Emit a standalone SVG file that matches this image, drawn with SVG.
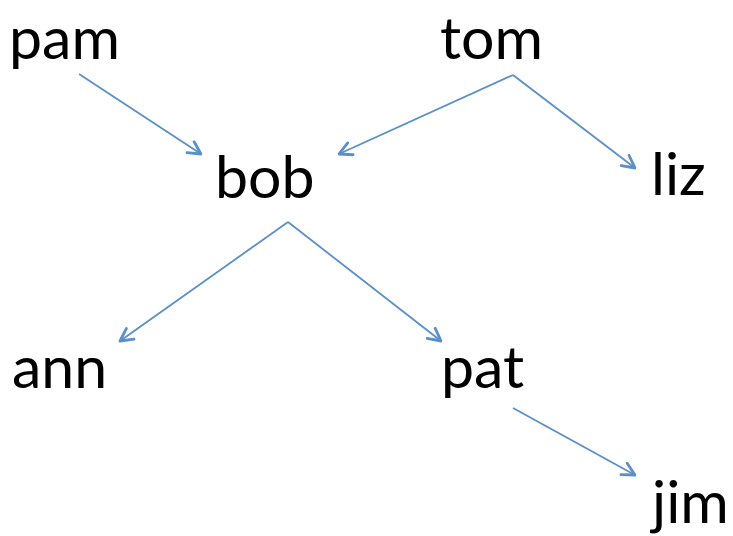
<svg xmlns="http://www.w3.org/2000/svg" width="733" height="536" viewBox="0 0 733 536">
<style>
.lbl{font-family:Lato,"Open Sans",sans-serif;font-size:59px;fill:#000}
.edge{stroke:#5A8FC8;stroke-width:1.8;fill:none}
</style>
<defs>
<marker id="ah" viewBox="0 0 16 16" refX="14.5" refY="8" markerWidth="16" markerHeight="16" markerUnits="userSpaceOnUse" orient="auto">
<path d="M2,1.5 L14.5,8 L2,14.5" fill="none" stroke="#5A8FC8" stroke-width="2.8" stroke-linecap="round" stroke-linejoin="round"/>
</marker>
</defs>
<rect width="733" height="536" fill="#fff"/>
<g id="connectors">
<line class="edge" x1="79" y1="74" x2="201" y2="154" marker-end="url(#ah)"/>
<line class="edge" x1="513" y1="75" x2="339" y2="154" marker-end="url(#ah)"/>
<line class="edge" x1="513" y1="75" x2="635" y2="168" marker-end="url(#ah)"/>
<line class="edge" x1="288" y1="222" x2="120" y2="341" marker-end="url(#ah)"/>
<line class="edge" x1="288" y1="222" x2="441" y2="341" marker-end="url(#ah)"/>
<line class="edge" x1="513" y1="408" x2="635" y2="475" marker-end="url(#ah)"/>
</g>
<g id="pam"><text class="lbl" x="9" y="58.5">pam</text></g>
<g id="tom"><text class="lbl" x="440" y="58.5">tom</text></g>
<g id="bob"><text class="lbl" x="215" y="198">bob</text></g>
<g id="liz"><text class="lbl" x="651" y="195">liz</text></g>
<g id="ann"><text class="lbl" x="12" y="388">ann</text></g>
<g id="pat"><text class="lbl" x="441" y="388">pat</text></g>
<g id="jim"><text class="lbl" x="652" y="523">jim</text></g>
</svg>
